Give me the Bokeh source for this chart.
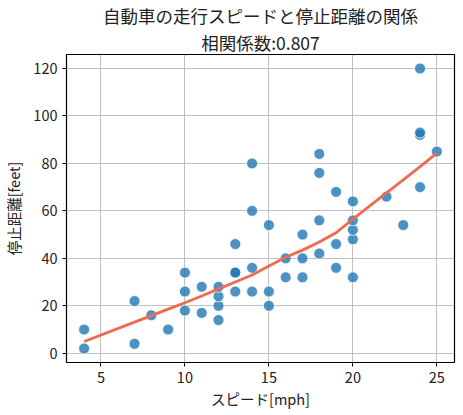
from bokeh.plotting import figure
from bokeh.models import Title, Range1d, FixedTicker
from bokeh.embed import file_html
from bokeh.resources import INLINE

speed = [4, 4, 7, 7, 8, 9, 10, 10, 10, 11, 11, 12, 12, 12, 12, 13, 13, 13, 13,
         14, 14, 14, 14, 15, 15, 15, 16, 16, 17, 17, 17, 18, 18, 18, 18, 19, 19,
         19, 20, 20, 20, 20, 20, 22, 23, 24, 24, 24, 24, 25]
dist = [2, 10, 4, 22, 16, 10, 18, 26, 34, 17, 28, 14, 20, 24, 28, 26, 34, 34, 46,
        26, 36, 60, 80, 20, 26, 54, 32, 40, 32, 40, 50, 42, 56, 76, 84, 36, 46,
        68, 32, 48, 52, 56, 64, 66, 54, 70, 92, 93, 120, 85]
smooth_x = [4, 7, 8, 9, 10, 11, 12, 13, 14, 15, 16, 17, 18, 19, 20, 22, 23, 24, 25]
smooth_y = [4.97, 13.12, 15.86, 18.58, 21.28, 24.13, 27.12, 30.03, 32.96, 36.76,
            40.44, 43.46, 46.89, 50.79, 56.49, 67.59, 73.08, 78.64, 84.33]
title_lines = ["自動車の走行スピードと停止距離の関係", "相関係数:0.807"]
x_ticks = [5, 10, 15, 20, 25]
y_ticks = [0, 20, 40, 60, 80, 100, 120]

FONT = "Noto Sans CJK JP"

p = figure(frame_width=388, frame_height=308, output_backend="svg", toolbar_location=None,
           x_range=Range1d(2.95, 26.05), y_range=Range1d(-3.9, 125.9),
           min_border_left=58, min_border_right=2, min_border_top=0, min_border_bottom=40)

for line in reversed(title_lines):
    p.add_layout(Title(text=line, align="center", text_font=FONT, text_font_size="17.5px",
                       text_font_style="normal", text_color="#222222", standoff=0,
                       text_line_height=1.0), "above")

p.outline_line_color = "black"
p.outline_line_width = 1.2
for ax in (p.xaxis, p.yaxis):
    ax.axis_line_color = None
    ax.major_tick_line_color = "black"
    ax.minor_tick_line_color = None
    ax.major_tick_out = 4
    ax.major_tick_in = 0
    ax.major_label_text_font = FONT
    ax.major_label_text_font_size = "14.5px"
    ax.major_label_text_color = "#222222"
    ax.axis_label_text_font = FONT
    ax.axis_label_text_font_size = "14.5px"
    ax.axis_label_text_font_style = "normal"
    ax.axis_label_text_color = "#222222"
p.xaxis.ticker = FixedTicker(ticks=x_ticks)
p.yaxis.ticker = FixedTicker(ticks=y_ticks)
p.xaxis.axis_label = "スピード[mph]"
p.yaxis.axis_label = "停止距離[feet]"
p.xaxis.axis_label_standoff = 2
p.yaxis.axis_label_standoff = 6
p.grid.grid_line_color = "#b0b0b0"
p.grid.grid_line_alpha = 0.8

p.scatter(speed, dist, size=11, fill_color="#1f77b4", fill_alpha=0.8,
          line_color="white", line_width=0.8)
p.line(smooth_x, smooth_y, line_color="#ee6a50", line_width=2.8)

open("out.html", "w").write(file_html(p, INLINE))
